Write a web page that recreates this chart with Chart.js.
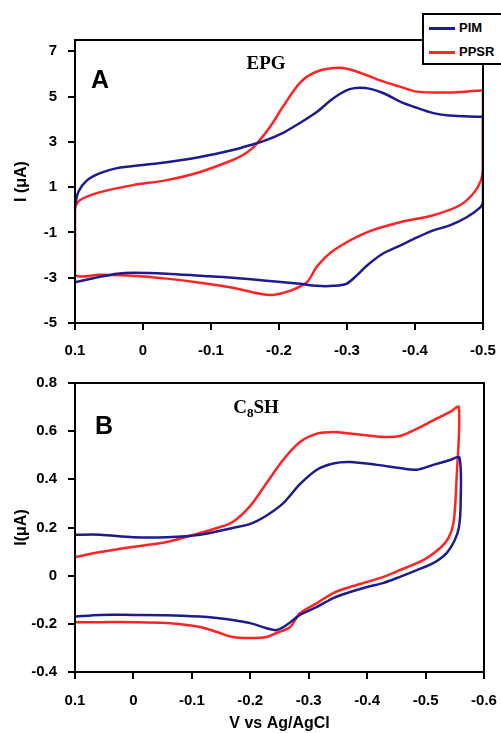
<!DOCTYPE html>
<html><head><meta charset="utf-8">
<script src="https://cdn.jsdelivr.net/npm/chart.js@4.4.0/dist/chart.umd.min.js"></script>
<style>
html,body{margin:0;padding:0;background:#fff;}
#wrap{position:relative;width:501px;height:733px;overflow:hidden;background:#fff;}
canvas{position:absolute;left:0;}
.lbl{position:absolute;white-space:nowrap;color:#000;line-height:1;transform:translate(-50%,-50%);z-index:3;}
.sans{font-family:"Liberation Sans",Arial,sans-serif;font-weight:bold;}
.serif{font-family:"Liberation Serif","Times New Roman",serif;font-weight:bold;}
#legend{position:absolute;left:422px;top:13px;width:100px;height:48px;border:2px solid #000;background:#fff;z-index:4;}
#legend .row{position:absolute;left:0;height:16px;}
#legend .ln{position:absolute;left:5px;width:26px;height:2.5px;top:7px;}
#legend .tx{position:absolute;left:35px;top:0;font-family:"Liberation Sans",Arial,sans-serif;font-weight:bold;font-size:13px;line-height:16px;}
</style></head><body>
<div id="wrap">
<canvas id="cA" width="501" height="365" style="top:0;width:501px;height:365px"></canvas>
<canvas id="cB" width="501" height="368" style="top:365px;width:501px;height:368px"></canvas>
<div class="lbl sans" style="left:100px;top:79px;font-size:25px;">A</div>
<div class="lbl serif" style="left:266px;top:62px;font-size:19px;">EPG</div>
<div class="lbl sans" style="left:104px;top:425px;font-size:25px;">B</div>
<div class="lbl serif" style="left:256px;top:408px;font-size:19px;">C<sub style="font-size:13px;vertical-align:-4px;">8</sub>SH</div>
<div id="legend">
  <div class="row" style="top:5px;"><div class="ln" style="background:#1c1c8e"></div><div class="tx">PIM</div></div>
  <div class="row" style="top:29px;"><div class="ln" style="background:#ff2424"></div><div class="tx">PPSR</div></div>
</div>
</div>
<script>
// ---------- Panel A (EPG) ----------
const pimA_V = [0.1, 0.095, 0.082, 0.063, 0.038, 0, -0.035, -0.084, -0.132, -0.157, -0.182, -0.206, -0.231, -0.256, -0.28, -0.304, -0.327, -0.353, -0.378, -0.403, -0.427, -0.451, -0.496, -0.5,
  -0.5, -0.496, -0.476, -0.451, -0.427, -0.403, -0.378, -0.353, -0.329, -0.314, -0.299, -0.28, -0.256, -0.231, -0.182, -0.132, -0.084, -0.035, 0.015, 0.038, 0.063, 0.1];
const pimA_I = [0.2, 0.8, 1.31, 1.62, 1.84, 1.98, 2.1, 2.33, 2.64, 2.85, 3.09, 3.4, 3.84, 4.33, 4.93, 5.33, 5.38, 5.16, 4.78, 4.5, 4.27, 4.16, 4.11, 4.1,
  0.35, 0.11, -0.33, -0.69, -0.91, -1.22, -1.58, -1.93, -2.47, -2.91, -3.27, -3.36, -3.36, -3.27, -3.13, -3.0, -2.91, -2.82, -2.78, -2.82, -2.96, -3.2];
const ppsrA_V = [0.1, 0.1, 0.093, 0.063, 0.015, -0.035, -0.084, -0.132, -0.147, -0.16, -0.172, -0.187, -0.206, -0.231, -0.256, -0.29, -0.314, -0.353, -0.378, -0.403, -0.451, -0.496, -0.5,
  -0.5, -0.497, -0.486, -0.466, -0.427, -0.378, -0.329, -0.28, -0.256, -0.241, -0.216, -0.191, -0.172, -0.132, -0.084, -0.035, 0.015, 0.063, 0.1, 0.1];
const ppsrA_I = [-1.5, 0.0, 0.42, 0.78, 1.09, 1.31, 1.67, 2.2, 2.42, 2.7, 3.09, 3.67, 4.56, 5.62, 6.11, 6.27, 6.11, 5.67, 5.44, 5.22, 5.18, 5.27, 5.25,
  1.9, 1.3, 0.73, 0.2, -0.24, -0.55, -1.0, -1.8, -2.5, -3.2, -3.58, -3.76, -3.71, -3.44, -3.22, -3.04, -2.91, -2.87, -2.87, -1.5];
const xTicksA = [0.1, 0, -0.1, -0.2, -0.3, -0.4, -0.5];
const xLabelsA = ['0.1', '0', '-0.1', '-0.2', '-0.3', '-0.4', '-0.5'];
const yTicksA = [-5, -3, -1, 1, 3, 5, 7];
const yLabelsA = ['-5', '-3', '-1', '1', '3', '5', '7'];

// ---------- Panel B (C8SH) ----------
const pimB_V = [0.1, 0.057, 0.0, -0.057, -0.114, -0.17, -0.2, -0.228, -0.256, -0.285, -0.314, -0.342, -0.371, -0.417, -0.456, -0.485, -0.513, -0.542, -0.558,
  -0.56, -0.557, -0.55, -0.536, -0.513, -0.485, -0.456, -0.428, -0.4, -0.371, -0.342, -0.314, -0.285, -0.262, -0.245, -0.228, -0.2, -0.17, -0.143, -0.114, -0.057, 0.0, 0.057, 0.1];
const pimB_I = [0.17, 0.17, 0.16, 0.16, 0.17, 0.198, 0.215, 0.25, 0.30, 0.38, 0.44, 0.466, 0.472, 0.46, 0.447, 0.44, 0.46, 0.48, 0.49,
  0.3, 0.2, 0.148, 0.094, 0.052, 0.023, -0.005, -0.03, -0.047, -0.068, -0.093, -0.13, -0.163, -0.205, -0.226, -0.218, -0.197, -0.184, -0.176, -0.17, -0.164, -0.163, -0.163, -0.17];
const ppsrB_V = [0.1, 0.057, 0.0, -0.057, -0.114, -0.143, -0.17, -0.2, -0.228, -0.256, -0.285, -0.314, -0.342, -0.371, -0.428, -0.456, -0.485, -0.513, -0.542, -0.557,
  -0.553, -0.548, -0.539, -0.525, -0.502, -0.485, -0.456, -0.428, -0.4, -0.371, -0.342, -0.314, -0.285, -0.268, -0.245, -0.228, -0.2, -0.17, -0.143, -0.114, -0.057, 0.0, 0.057, 0.1];
const ppsrB_I = [0.077, 0.098, 0.12, 0.14, 0.177, 0.198, 0.223, 0.29, 0.385, 0.48, 0.555, 0.59, 0.597, 0.59, 0.576, 0.58, 0.61, 0.645, 0.68, 0.70,
  0.4, 0.22, 0.156, 0.115, 0.073, 0.052, 0.023, -0.005, -0.026, -0.047, -0.072, -0.114, -0.156, -0.213, -0.238, -0.255, -0.259, -0.255, -0.234, -0.213, -0.197, -0.193, -0.193, -0.193];
const xTicksB = [0.1, 0, -0.1, -0.2, -0.3, -0.4, -0.5, -0.6];
const xLabelsB = ['0.1', '0', '-0.1', '-0.2', '-0.3', '-0.4', '-0.5', '-0.6'];
const yTicksB = [-0.4, -0.2, 0, 0.2, 0.4, 0.6, 0.8];
const yLabelsB = ['-0.4', '-0.2', '0', '0.2', '0.4', '0.6', '0.8'];

const seriesNames = ['PIM', 'PPSR'];
const seriesColors = ['#1c1c8e', '#ff2424'];

Chart.defaults.font.family = '"Liberation Sans", Arial, sans-serif';
Chart.defaults.font.weight = 'bold';
Chart.defaults.color = '#000';

const pts = (xs, ys) => xs.map((x, i) => ({x: x, y: ys[i]}));

const frame = {
  id: 'frame',
  afterDraw(chart) {
    const a = chart.chartArea, c = chart.ctx;
    c.save(); c.strokeStyle = '#000'; c.lineWidth = 2;
    c.strokeRect(a.left, a.top, a.right - a.left, a.bottom - a.top);
    c.restore();
  }
};

function makeChart(id, data, xr, yr, xT, xL, yT, yL, pad, xH, xPad, yTitle, xTitle) {
  const tickGrid = {display: true, drawOnChartArea: false, drawTicks: true, tickLength: 7, color: '#000', lineWidth: 2};
  return new Chart(document.getElementById(id), {
    type: 'scatter',
    data: {
      datasets: data.map((d, i) => ({
        label: seriesNames[i], data: d, showLine: true, borderColor: seriesColors[i],
        backgroundColor: seriesColors[i], borderWidth: 2.5, pointRadius: 0, tension: 0.3, fill: false
      }))
    },
    options: {
      responsive: false, animation: false, devicePixelRatio: 1,
      layout: {padding: pad},
      plugins: {legend: {display: false}, tooltip: {enabled: false}},
      scales: {
        x: {
          type: 'linear', reverse: true, min: xr[0], max: xr[1],
          afterBuildTicks: s => { s.ticks = xT.map(v => ({value: v})); },
          afterFit: s => { s.height = xH; s.paddingLeft = 0; s.paddingRight = 0; },
          ticks: {font: {size: 15, weight: 'bold'}, padding: xPad, maxRotation: 0, autoSkip: false,
                  callback: v => xL[xT.indexOf(v)]},
          grid: tickGrid,
          border: {display: true, color: '#000', width: 2},
          title: {display: !!xTitle, text: xTitle, font: {size: 16, weight: 'bold'}, padding: {top: 0, bottom: 0}}
        },
        y: {
          type: 'linear', min: yr[0], max: yr[1],
          afterBuildTicks: s => { s.ticks = yT.map(v => ({value: v})); },
          afterFit: s => { s.width = 75; s.paddingTop = 0; s.paddingBottom = 0; },
          ticks: {font: {size: 15, weight: 'bold'}, padding: 11, autoSkip: false,
                  callback: v => yL[yT.indexOf(v)]},
          grid: tickGrid,
          border: {display: true, color: '#000', width: 2},
          title: {display: true, text: yTitle, font: {size: 16, weight: 'bold'}, padding: {top: 12, bottom: 0}}
        }
      }
    },
    plugins: [frame]
  });
}

makeChart('cA', [pts(pimA_V, pimA_I), pts(ppsrA_V, ppsrA_I)], [-0.5, 0.1], [-5, 7.5],
  xTicksA, xLabelsA, yTicksA, yLabelsA, {top: 40, right: 18, left: 0, bottom: 0}, 42, 12, 'I (\u03bcA)', '');
makeChart('cB', [pts(pimB_V, pimB_I), pts(ppsrB_V, ppsrB_I)], [-0.6, 0.1], [-0.4, 0.8],
  xTicksB, xLabelsB, yTicksB, yLabelsB, {top: 18, right: 17, left: 0, bottom: 0}, 61, 13, 'I(\u03bcA)', 'V vs Ag/AgCl');
</script>
</body></html>
